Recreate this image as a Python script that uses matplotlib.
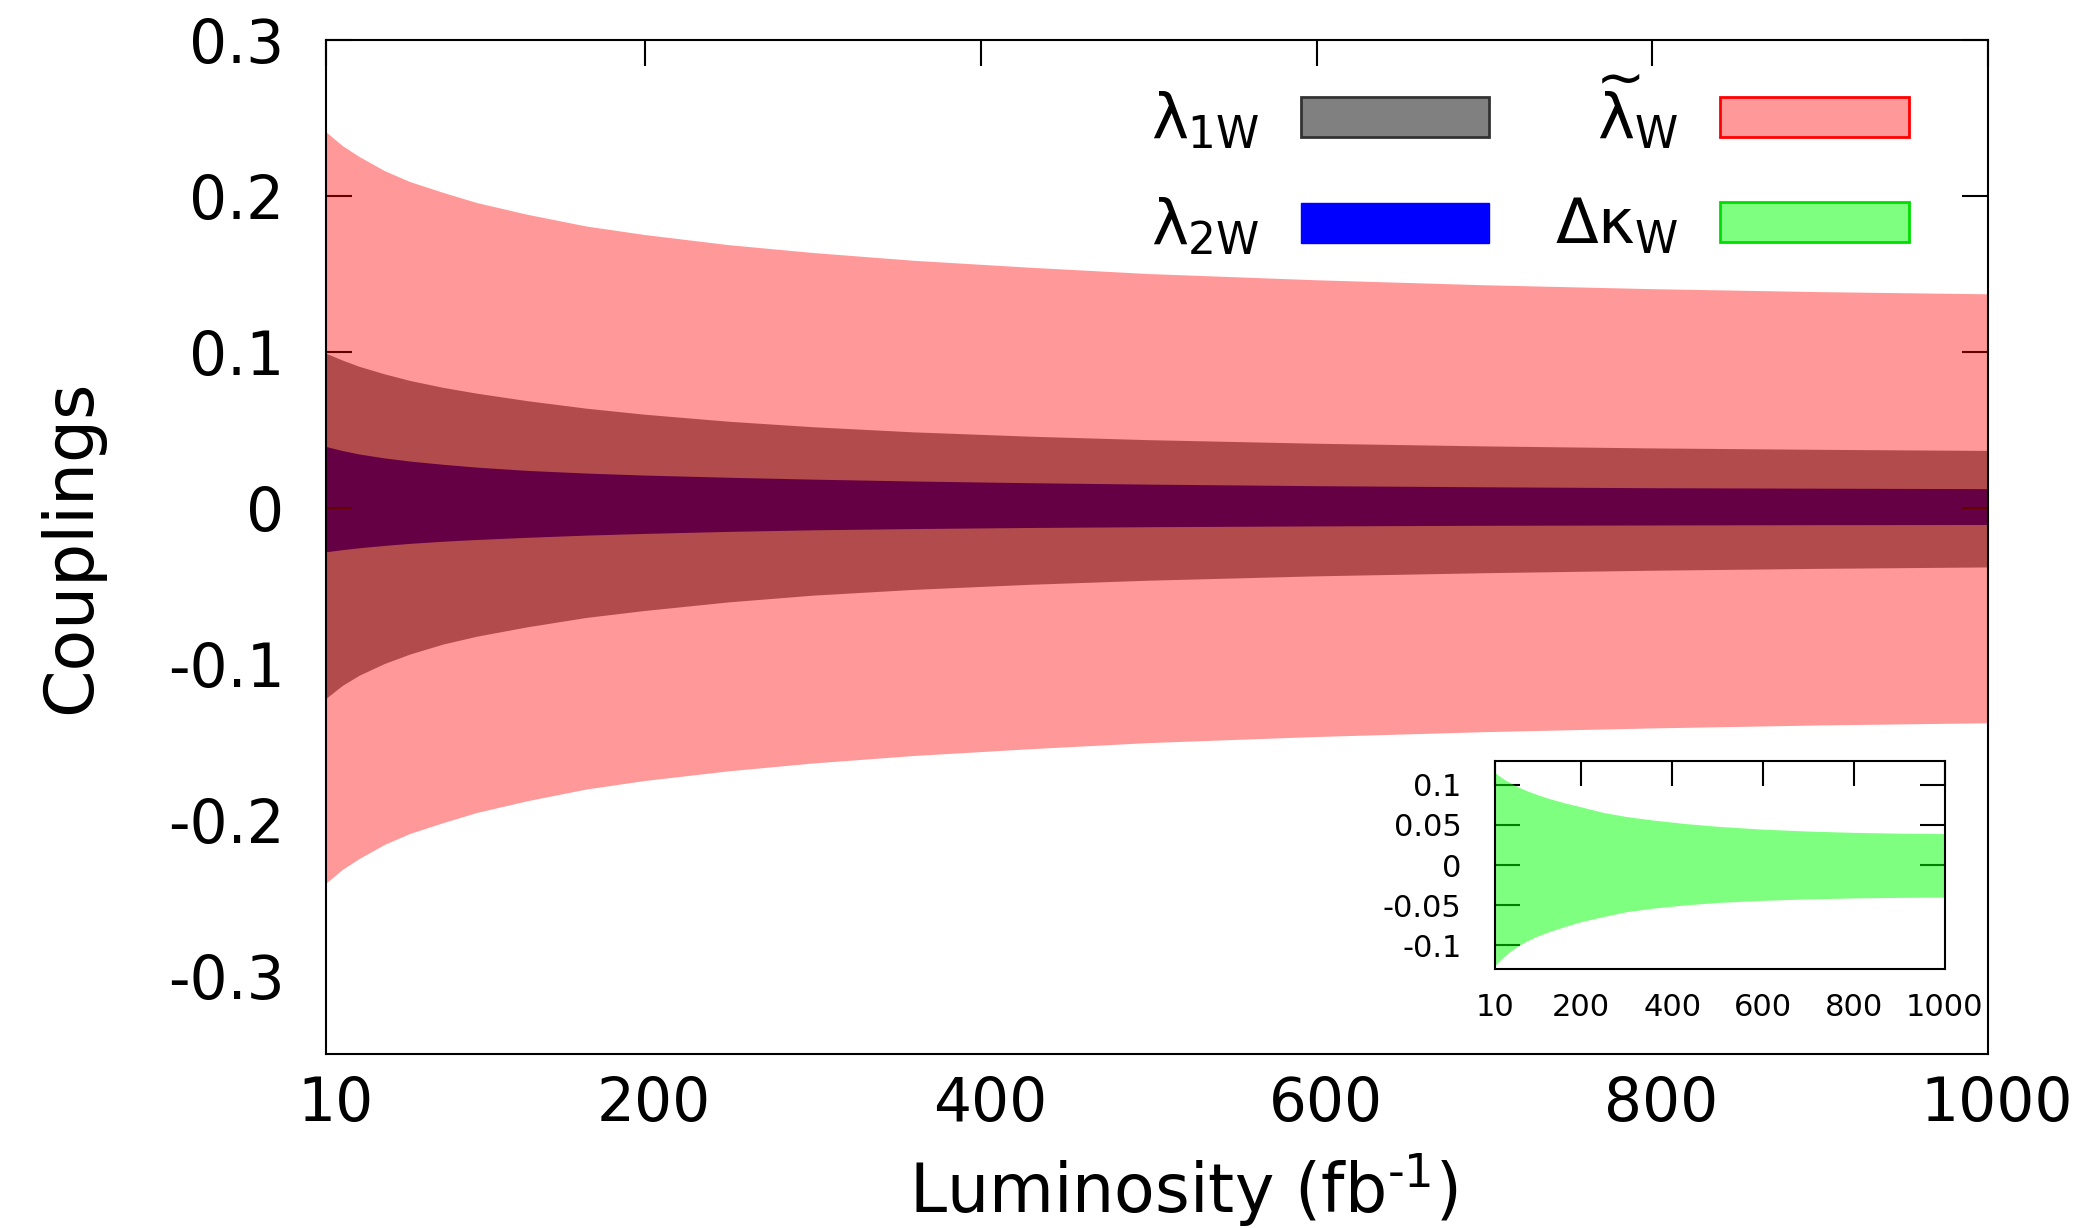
import matplotlib
matplotlib.use("Agg")
import matplotlib.pyplot as plt
import matplotlib.transforms as mtransforms
from matplotlib.patches import Patch

plt.rcParams['font.family'] = ['DejaVu Sans']
plt.rcParams['mathtext.fontset'] = 'custom'
plt.rcParams['mathtext.rm'] = 'DejaVu Sans'
plt.rcParams['mathtext.it'] = 'DejaVu Sans'
plt.rcParams['mathtext.bf'] = 'DejaVu Sans:bold'

# 95% bounds on the couplings vs integrated luminosity
lumi = [10, 20, 30, 45, 60, 80, 100, 130, 165, 200, 250, 300, 360, 430, 500,
        600, 700, 800, 900, 1000]
lam_tilde_hi = [0.241, 0.232, 0.225, 0.216, 0.209, 0.202, 0.1955, 0.188, 0.1805, 0.175,
                0.1685, 0.1635, 0.1585, 0.154, 0.150, 0.146, 0.1428, 0.1403, 0.1384, 0.137]
lam_tilde_lo = [-0.241, -0.232, -0.225, -0.216, -0.209, -0.202, -0.1955, -0.188, -0.1805,
                -0.175, -0.1688, -0.1638, -0.1590, -0.1546, -0.1507, -0.1468, -0.1437,
                -0.1413, -0.1394, -0.138]
lam1_hi = [0.099, 0.0945, 0.0905, 0.0857, 0.0815, 0.077, 0.0733, 0.0685, 0.0637, 0.0598,
           0.0553, 0.0518, 0.0485, 0.0457, 0.0435, 0.0412, 0.0395, 0.0382, 0.0373, 0.0366]
lam1_lo = [-0.1225, -0.114, -0.1075, -0.100, -0.094, -0.0875, -0.0825, -0.0765, -0.0705,
           -0.066, -0.0605, -0.0562, -0.0525, -0.0492, -0.0466, -0.0438, -0.0418, -0.0402,
           -0.039, -0.0381]
lam2_hi = [0.0392, 0.0365, 0.0343, 0.0318, 0.0298, 0.0277, 0.0259, 0.0238, 0.0221, 0.0208,
           0.0194, 0.0182, 0.017, 0.0159, 0.015, 0.014, 0.0133, 0.0127, 0.0124, 0.0121]
lam2_lo = [-0.0284, -0.027, -0.0258, -0.0243, -0.023, -0.0216, -0.0205, -0.0191, -0.0177,
           -0.0166, -0.0153, -0.0143, -0.0135, -0.0128, -0.0123, -0.0118, -0.0114, -0.0112,
           -0.011, -0.0109]

dkappa_hi = [0.1155, 0.111, 0.107, 0.102, 0.0975, 0.0925, 0.0882, 0.0825, 0.077, 0.0722,
             0.065, 0.060, 0.0555, 0.0512, 0.0478, 0.0442, 0.0418, 0.0402, 0.0392, 0.0386]
dkappa_lo = [-0.127, -0.121, -0.1155, -0.1085, -0.1025, -0.096, -0.0905, -0.084, -0.0775,
             -0.0715, -0.065, -0.059, -0.0545, -0.0505, -0.0475, -0.0448, -0.043, -0.0418,
             -0.0411, -0.0407]

xticks = [10, 200, 400, 600, 800, 1000]
yticks = [-0.3, -0.2, -0.1, 0, 0.1, 0.2, 0.3]
ylabels = ['-0.3', '-0.2', '-0.1', '0', '0.1', '0.2', '0.3']
yticks_k = [-0.1, -0.05, 0, 0.05, 0.1]
ylabels_k = ['-0.1', '-0.05', '0', '0.05', '0.1']

fig = plt.figure(figsize=(20.85, 12.28), dpi=100)
ax = fig.add_axes([0.1564, 0.1417, 0.7971, 0.8257])

ax.fill_between(lumi, lam1_lo, lam1_hi, facecolor='#808080', edgecolor='none', zorder=1)
ax.fill_between(lumi, lam2_lo, lam2_hi, facecolor='#000072', edgecolor='none', zorder=1.1)
ax.fill_between(lumi, lam_tilde_lo, lam_tilde_hi, facecolor='red', alpha=0.4,
                edgecolor='none', zorder=2.6)

ax.set_xlim(10, 1000)
ax.set_ylim(-0.35, 0.3)
ax.set_xticks(xticks)
ax.set_yticks(yticks)
ax.set_yticklabels(ylabels)
ax.tick_params(direction='in', length=19, width=1.5, labelsize=43,
               top=True, bottom=False, right=True)
ax.tick_params(axis='x', pad=15)
ax.tick_params(axis='y', pad=30)
for t, v in zip(ax.yaxis.get_major_ticks(), yticks):
    if v < 0:
        t.tick1line.set_visible(False)
        t.tick2line.set_visible(False)
shift = mtransforms.ScaledTranslation(9 / 100, 0, fig.dpi_scale_trans)
for lab in ax.get_xticklabels():
    lab.set_transform(lab.get_transform() + shift)
for s in ax.spines.values():
    s.set_linewidth(1.5)
    s.set_zorder(3)

ax.set_xlabel(r'Luminosity (fb$^{\text{-1}}$)', fontsize=48)
ax.xaxis.set_label_coords(0.516, -0.095)
ax.set_ylabel('Couplings', fontsize=49, labelpad=46)

handles = [Patch(facecolor='#808080', edgecolor='#333333', linewidth=2),
           Patch(facecolor='blue', edgecolor='blue'),
           Patch(facecolor=(1, 0, 0, 0.4), edgecolor='red', linewidth=2),
           Patch(facecolor=(0, 1, 0, 0.5), edgecolor='#00dd00', linewidth=2)]
labels = [r'$\lambda_{\mathrm{1W}}$', r'$\lambda_{\mathrm{2W}}$',
          r'$\widetilde{\lambda}_{\mathrm{W}}$', r'$\Delta\kappa_{\mathrm{W}}$']
ax.legend(handles, labels, loc='upper right', bbox_to_anchor=(0.986, 1.023), ncol=2,
          markerfirst=False, frameon=False, fontsize=45, handlelength=3.02,
          handleheight=0.62, handletextpad=0.66, columnspacing=1.05, labelspacing=0.72)

# inset with the Delta kappa band
axi = fig.add_axes([0.717, 0.2109, 0.2158, 0.1694])
axi.fill_between(lumi, dkappa_lo, dkappa_hi, facecolor='lime', alpha=0.5,
                 edgecolor='none', zorder=2.6)
axi.set_xlim(10, 1000)
axi.set_ylim(-0.13, 0.13)
axi.set_xticks(xticks)
axi.set_yticks(yticks_k)
axi.set_yticklabels(ylabels_k)
axi.tick_params(direction='in', length=18, width=1.5, labelsize=22,
                top=True, bottom=False, right=True)
axi.tick_params(axis='x', pad=17)
axi.tick_params(axis='y', pad=24)
for t, v in zip(axi.yaxis.get_major_ticks(), yticks_k):
    if v < 0:
        t.tick2line.set_visible(False)
for s in axi.spines.values():
    s.set_linewidth(1.5)
    s.set_zorder(3)

fig.savefig('out.png', dpi=100)
